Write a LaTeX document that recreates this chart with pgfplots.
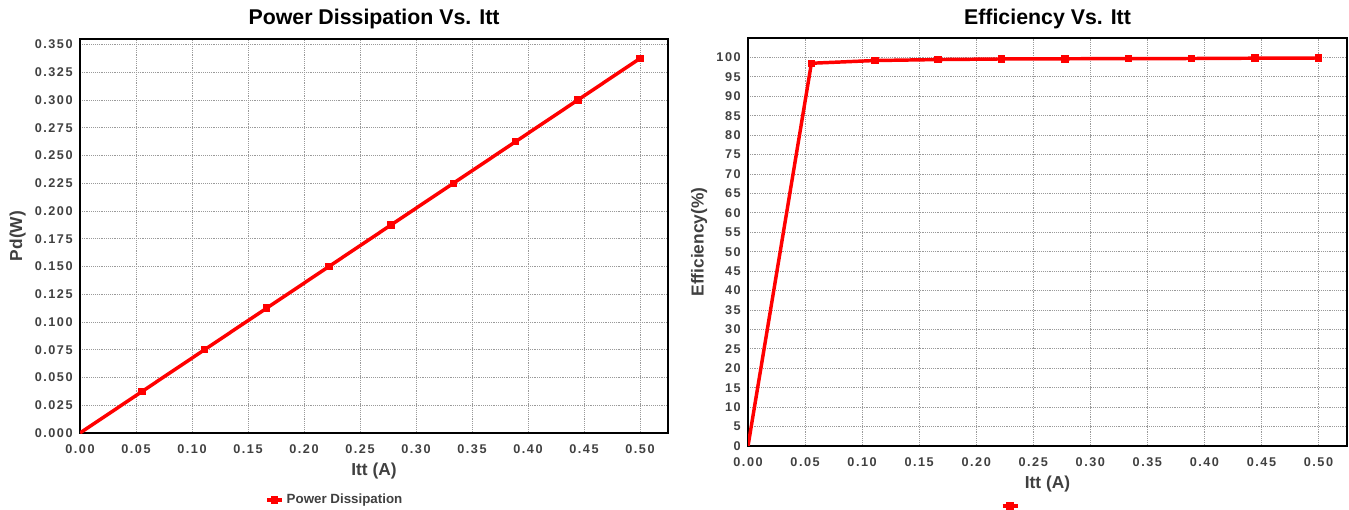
\documentclass[border=0pt]{standalone}
\usepackage{pgfplots}
\pgfplotsset{compat=1.18}
\usepackage{fontspec}
\setmainfont{Liberation Sans}
\newfontfamily\tickfont[LetterSpace=12]{Liberation Sans}
\definecolor{ticktext}{HTML}{404040}
\definecolor{gridc}{HTML}{9A9A9A}
\pgfplotsset{
  mystyle/.style={
    scale only axis,
    axis line style={black, line width=1pt},
    grid=major,
    major grid style={gridc, densely dotted, line width=0.6pt},
    tick style={draw=none},
    /pgf/number format/assume math mode=true,
    ticklabel style={font=\tickfont\bfseries\fontsize{9.5}{10}\selectfont, text=ticktext},
    xticklabel style={yshift=-5pt},
    yticklabel style={xshift=-2pt},
    title style={font=\bfseries\fontsize{16}{18}\selectfont, yshift=-2pt},
    label style={font=\bfseries\fontsize{13}{15}\selectfont, text=ticktext},
    xtick={0,0.05,0.10,0.15,0.20,0.25,0.30,0.35,0.40,0.45,0.50},
    xticklabel style={/pgf/number format/.cd, fixed, fixed zerofill, precision=2},
    xmin=0, xmax=0.525,
    legend style={draw=none, fill=none, font=\bfseries\fontsize{10}{12}\selectfont, text=ticktext, anchor=center},
    legend image code/.code={
      \draw[#1, mark indices={2}] plot coordinates {(0cm,0cm) (0.2cm,0cm) (0.4cm,0cm)};
    },
  }
}
\pgfplotstableread{
x p e
0 0 0
0.05556 0.0375 98.5
0.11111 0.0750 99.2
0.16667 0.1125 99.45
0.22222 0.1500 99.6
0.27778 0.1875 99.65
0.33333 0.2250 99.7
0.38889 0.2625 99.72
0.44444 0.3000 99.8
0.50000 0.3375 99.85
}\datatable
\begin{document}
\begin{tikzpicture}
\useasboundingbox (0,0) rectangle (1011.75pt,382.5pt);
\begin{axis}[mystyle,
  at={(60pt,353.25pt)}, anchor=north west,
  width=441pt, height=295.5pt,
  ymin=0, ymax=0.355,
  ytick={0,0.025,0.05,0.075,0.1,0.125,0.15,0.175,0.2,0.225,0.25,0.275,0.3,0.325,0.35},
  yticklabel style={/pgf/number format/.cd, fixed, fixed zerofill, precision=3},
  title={Power Dissipation Vs. Itt},
  xlabel={Itt (A)}, ylabel={Pd(W)},
  legend style={at={(axis description cs:0.434,-0.17)}},
]
\addplot[red, line width=2.6pt, mark=square*, mark size=1.5pt, mark indices={2,...,10}] table[x=x,y=p] {\datatable};
\addlegendentry{Power Dissipation}
\end{axis}
\begin{axis}[mystyle,
  at={(561pt,354pt)}, anchor=north west,
  width=449.25pt, height=306pt,
  ymin=0, ymax=105,
  ytick={0,5,...,100},
  title style={yshift=-1pt},
  title={Efficiency Vs. Itt},
  xlabel={Itt (A)}, ylabel={Efficiency(\%)},
  legend style={at={(axis description cs:0.442,-0.147)}},
]
\addplot[red, line width=2.6pt, mark=square*, mark size=1.5pt, mark indices={2,...,10}] table[x=x,y=e] {\datatable};
\addlegendentry{}
\end{axis}
\end{tikzpicture}
\end{document}
